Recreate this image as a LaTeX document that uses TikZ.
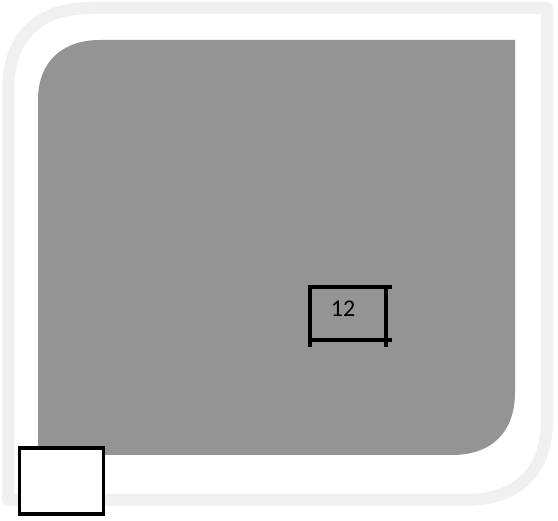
\documentclass[tikz,border=0pt]{standalone}
\usepackage{fontspec}
\setmainfont{Carlito}
\begin{document}
\begin{tikzpicture}[x=1pt,y=-1pt,
  halo/.style={draw=black!6,line width=12pt,line join=round},
  panel/.style={fill=black!42},
  blackbox/.style={draw=black,line width=3.2pt},
  lbl/.style={font=\fontsize{24}{28}\selectfont,text=black}]
\useasboundingbox (0,0) rectangle (558,521);
\fill[white] (0,0) rectangle (558,521);
% faint outer halo
\draw[halo] (8,90) .. controls (8,38) and (38,8) .. (90,8) -- (547,8) -- (547,420)
  .. controls (547,472) and (517,500) .. (465,500) -- (8,500) -- cycle;
% gray panel
\path[panel] (38,100) .. controls (38,62) and (62,40) .. (100,40) -- (515,40) -- (515,392)
  .. controls (515,432) and (492,455) .. (452,455) -- (38,455) -- cycle;
% small box with label
\node[lbl] (twelve) at (343,309) {12};
\coordinate (ta) at (308,287);
\coordinate (tb) at (392,287);
\coordinate (te) at (392,340);
\draw[blackbox] (ta) -- (tb);
\draw[blackbox] (310,285) -- (310,347);
\draw[blackbox] (386,285) -- (386,347);
\draw[blackbox] (308,340) -- (te);
% bottom-left white box
\node[blackbox,fill=white,minimum width=84pt,minimum height=66pt,inner sep=0pt] (corner) at (61.5,481) {};
\end{tikzpicture}
\end{document}
